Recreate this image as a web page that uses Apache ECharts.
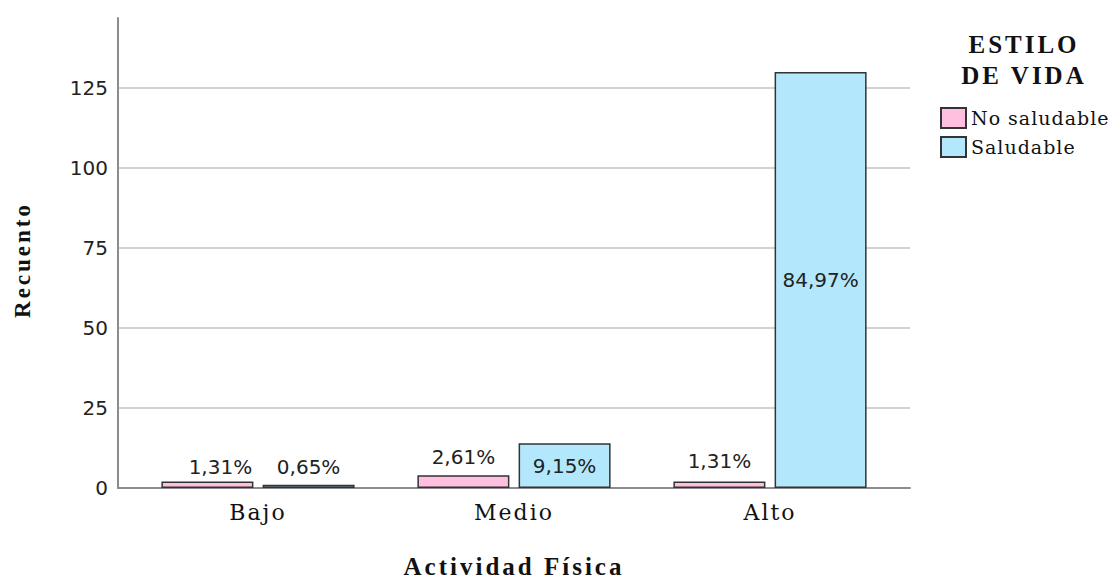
<!DOCTYPE html>
<html><head><meta charset="utf-8">
<script src="https://cdn.jsdelivr.net/npm/echarts@6/dist/echarts.min.js"></script>
<style>
html,body{margin:0;padding:0;background:#fff;}
#chart{width:1116px;height:580px;}
#chart text[style*="Liberation Serif"]{letter-spacing:3px;}
#chart text[style*="DejaVu Serif"]{letter-spacing:2px;}
#chart text[style*="19px"][style*="DejaVu Serif"]{letter-spacing:1px;}
</style></head><body><div id="chart"></div>
<script>
const categories = ['Bajo', 'Medio', 'Alto'];
const seriesNames = ['No saludable', 'Saludable'];
const noSaludable = [2, 4, 2];
const saludable = [1, 14, 130];
const pctNoSaludable = ['1,31%', '2,61%', '1,31%'];
const pctSaludable = ['0,65%', '9,15%', '84,97%'];
const yInterval = 25;
const yMax = 146.9;

const pinkFill = '#ffbfdf';
const blueFill = '#b3e8fc';
const border = '#333333';
const labelFont = {fontFamily: 'DejaVu Sans', fontSize: 20, color: '#222'};

const chart = echarts.init(document.getElementById('chart'), null, {renderer: 'svg'});

const noSalData = noSaludable.map((v, i) => {
  const item = {value: v};
  if (i === 0) item.label = {offset: [13, 3]};
  if (i === 2) item.label = {offset: [0, -3]};
  return item;
});
const salData = saludable.map((v, i) => ({
  value: v,
  label: {position: v > 10 ? 'inside' : 'top'}
}));

chart.setOption({
  animation: false,
  backgroundColor: '#fff',
  title: {
    text: 'ESTILO\nDE VIDA',
    left: 1019, top: 24, textAlign: 'center',
    textStyle: {fontFamily: 'Liberation Serif', fontWeight: 'bold', fontSize: 25, lineHeight: 31, color: '#111'}
  },
  legend: {
    data: seriesNames,
    orient: 'vertical', left: 940, top: 107,
    itemWidth: 25, itemHeight: 20, itemGap: 7, padding: 0,
    icon: 'rect',
    textStyle: {fontFamily: 'DejaVu Serif', fontSize: 19, color: '#111'}
  },
  grid: [
    {left: 118, right: 206, top: 18, bottom: 92, outerBoundsMode: 'none', containLabel: false},
    {left: 130, right: 218, top: 18, bottom: 92, outerBoundsMode: 'none', containLabel: false}
  ],
  xAxis: [
    {type: 'value', gridIndex: 0, min: 0, max: 1,
     axisLine: {show: true, lineStyle: {color: '#8c8c8c', width: 2}},
     axisTick: {show: false}, axisLabel: {show: false}, splitLine: {show: false}},
    {type: 'category', gridIndex: 1, data: categories,
     axisLine: {show: false}, axisTick: {show: false},
     axisLabel: {fontFamily: 'DejaVu Serif', fontSize: 22, color: '#111', margin: 13},
     name: 'Actividad Física', nameLocation: 'middle', nameGap: 65,
     nameTextStyle: {fontFamily: 'Liberation Serif', fontWeight: 'bold', fontSize: 25, lineHeight: 26, color: '#111'}}
  ],
  yAxis: [
    {type: 'value', gridIndex: 0, min: 0, max: yMax, interval: yInterval,
     axisLine: {show: true, lineStyle: {color: '#8c8c8c', width: 2}},
     axisTick: {show: false},
     axisLabel: {fontFamily: 'DejaVu Sans', fontSize: 20, color: '#222', margin: 10, showMaxLabel: false},
     splitLine: {show: true, showMaxLine: false, lineStyle: {color: '#d2d2d2', width: 2}},
     name: 'Recuento', nameLocation: 'middle', nameGap: 84,
     nameTextStyle: {fontFamily: 'Liberation Serif', fontWeight: 'bold', fontSize: 23, color: '#111', padding: [0, 14, 0, 0]}},
    {type: 'value', gridIndex: 1, min: 0, max: yMax, interval: yInterval, show: false}
  ],
  series: [
    {name: seriesNames[0], type: 'bar', xAxisIndex: 1, yAxisIndex: 1,
     barWidth: 92, barGap: '10%',
     itemStyle: {color: pinkFill, borderColor: border, borderWidth: 1.5},
     label: Object.assign({show: true, position: 'top', distance: 8,
       formatter: p => pctNoSaludable[p.dataIndex]}, labelFont),
     data: noSalData},
    {name: seriesNames[1], type: 'bar', xAxisIndex: 1, yAxisIndex: 1,
     barWidth: 92, barGap: '10%',
     itemStyle: {color: blueFill, borderColor: border, borderWidth: 1.5},
     label: Object.assign({show: true, position: 'top', distance: 8,
       formatter: p => pctSaludable[p.dataIndex]}, labelFont),
     data: salData}
  ]
});
</script></body></html>
